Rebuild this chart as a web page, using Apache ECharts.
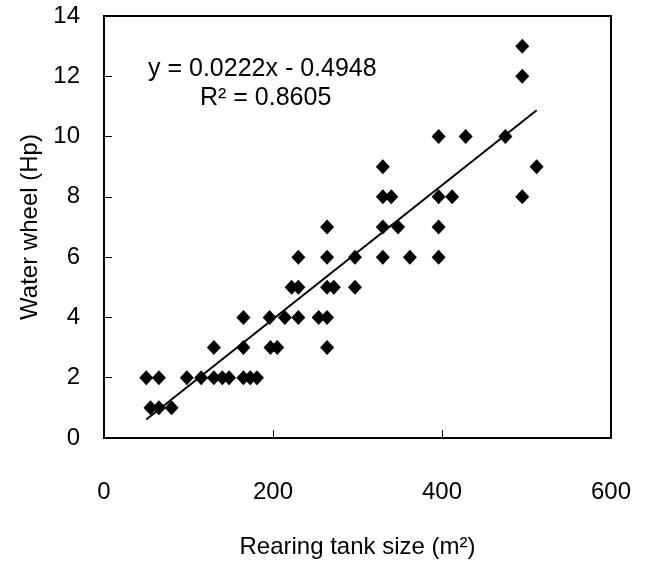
<!DOCTYPE html>
<html>
<head>
<meta charset="utf-8">
<script src="https://cdn.jsdelivr.net/npm/echarts@6/dist/echarts.min.js"></script>
<style>
html,body{margin:0;padding:0;background:#fff;}
#c{width:645px;height:568px;}
</style>
</head>
<body>
<div id="c"></div>
<script>
// Data
var tankSize = [55, 65, 80,
  50, 65, 98, 115, 130, 140, 148, 165, 173, 181,
  130, 165, 197, 205, 264,
  165, 196, 214, 230, 254, 264,
  222, 230, 264, 272, 297,
  230, 264, 297, 330, 362, 396,
  264, 330, 348, 396,
  330, 340, 396, 412, 495,
  330, 512,
  396, 428, 475,
  495,
  495];
var waterWheel = [1, 1, 1,
  2, 2, 2, 2, 2, 2, 2, 2, 2, 2,
  3, 3, 3, 3, 3,
  4, 4, 4, 4, 4, 4,
  5, 5, 5, 5, 5,
  6, 6, 6, 6, 6, 6,
  7, 7, 7, 7,
  8, 8, 8, 8, 8,
  9, 9,
  10, 10, 10,
  12,
  13];
var slope = 0.0222;
var intercept = -0.4948;
var r2 = 0.8605;
var trendRange = [50, 512];
var xTicks = [0, 200, 400, 600];
var yTicks = [0, 2, 4, 6, 8, 10, 12, 14];

var points = tankSize.map(function (x, i) { return [x, waterWheel[i]]; });
var trend = trendRange.map(function (x) { return [x, slope * x + intercept]; });

var FONT = '"Liberation Sans", Arial, sans-serif';
var chart = echarts.init(document.getElementById('c'), null, {renderer: 'canvas'});
chart.setOption({
  animation: false,
  backgroundColor: '#fff',
  grid: {left: 104, top: 16, right: 34, bottom: 130, show: true, borderColor: '#000', borderWidth: 2, backgroundColor: 'transparent'},
  xAxis: {
    type: 'value', min: xTicks[0], max: xTicks[xTicks.length - 1], interval: 200,
    name: 'Rearing tank size (m²)', nameLocation: 'middle', nameGap: 97,
    nameTextStyle: {fontFamily: FONT, fontSize: 24, color: '#000'},
    axisLine: {show: true, lineStyle: {color: '#000', width: 2}},
    axisTick: {show: true, inside: true, length: 8, lineStyle: {color: '#000', width: 1}},
    axisLabel: {fontFamily: FONT, fontSize: 24, color: '#000', margin: 42},
    splitLine: {show: false}
  },
  yAxis: {
    type: 'value', min: yTicks[0], max: yTicks[yTicks.length - 1], interval: 2,
    name: 'Water wheel (Hp)', nameLocation: 'middle', nameGap: 62, nameRotate: 90,
    nameTextStyle: {fontFamily: FONT, fontSize: 24, color: '#000'},
    axisLine: {show: true, lineStyle: {color: '#000', width: 2}},
    axisTick: {show: true, inside: true, length: 8, lineStyle: {color: '#000', width: 1}},
    axisLabel: {fontFamily: FONT, fontSize: 24, color: '#000', margin: 24},
    splitLine: {show: false}
  },
  series: [
    {
      type: 'line', data: trend, showSymbol: false, symbol: 'none',
      lineStyle: {color: '#000', width: 2}, z: 2, silent: true
    },
    {
      type: 'scatter', data: points, symbol: 'diamond', symbolSize: [14, 15],
      itemStyle: {color: '#000', opacity: 1}, z: 3
    }
  ],
  graphic: [
    {type: 'text', left: 148, top: 57, style: {text: 'y = ' + slope.toFixed(4) + 'x - ' + Math.abs(intercept).toFixed(4), font: '25px ' + FONT, fill: '#000'}},
    {type: 'text', left: 200, top: 86, style: {text: 'R² = ' + r2.toFixed(4), font: '25px ' + FONT, fill: '#000'}}
  ]
});
</script>
</body>
</html>
